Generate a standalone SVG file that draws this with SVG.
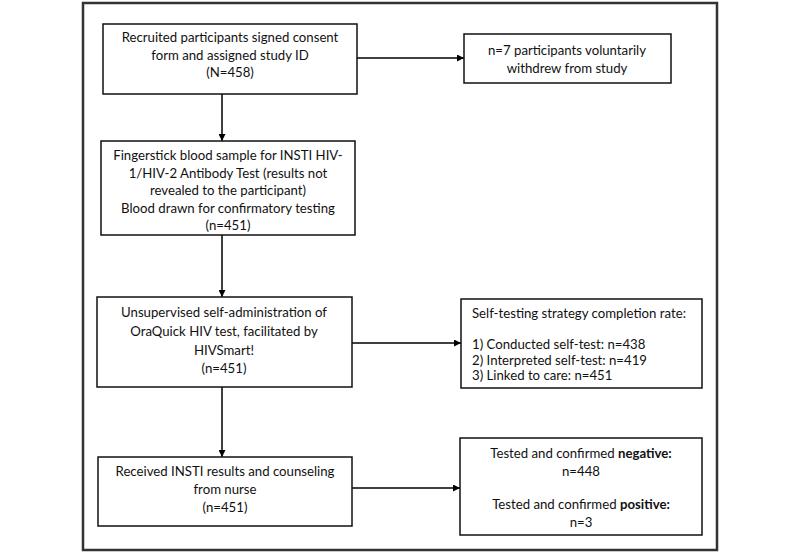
<svg xmlns="http://www.w3.org/2000/svg" width="800" height="553" viewBox="0 0 800 553">
<defs>
<marker id="ah" viewBox="0 0 10 10" refX="10" refY="5" markerWidth="7" markerHeight="7" markerUnits="userSpaceOnUse" orient="auto">
<path d="M0,0 L10,5 L0,10 z" fill="#000"/>
</marker>
<style>
.box{fill:#fff;stroke:#111;stroke-width:1.5}
.t{font-family:Lato,"Open Sans","Liberation Sans",sans-serif;font-size:13.2px;fill:#111}
.c{text-anchor:middle}
.con{stroke:#000;stroke-width:1.5;fill:none;marker-end:url(#ah)}
</style>
</defs>
<rect width="800" height="553" fill="#fff"/>
<rect x="83" y="3" width="634" height="547" fill="none" stroke="#333" stroke-width="2.5"/>
<g id="connectors">
<line class="con" x1="222" y1="94" x2="222" y2="141"/>
<line class="con" x1="222" y1="235" x2="222" y2="297"/>
<line class="con" x1="222" y1="387" x2="222" y2="457"/>
<line class="con" x1="357" y1="58" x2="464" y2="58"/>
<line class="con" x1="352" y1="343" x2="461" y2="343"/>
<line class="con" x1="352" y1="488" x2="460" y2="488"/>
</g>
<g id="n1">
<rect class="box" x="103" y="24" width="254" height="70"/>
<text class="t c" x="230" y="42">Recruited participants signed consent</text>
<text class="t c" x="230" y="60">form and assigned study ID</text>
<text class="t c" x="230" y="77">(N=458)</text>
</g>
<g id="n2">
<rect class="box" x="464" y="34" width="207" height="49"/>
<text class="t c" x="567" y="55">n=7 participants voluntarily</text>
<text class="t c" x="567" y="73">withdrew from study</text>
</g>
<g id="n3">
<rect class="box" x="101" y="141" width="254" height="94"/>
<text class="t c" x="228" y="160">Fingerstick blood sample for INSTI HIV-</text>
<text class="t c" x="228" y="178">1/HIV-2 Antibody Test (results not</text>
<text class="t c" x="228" y="195">revealed to the participant)</text>
<text class="t c" x="228" y="213">Blood drawn for confirmatory testing</text>
<text class="t c" x="228" y="230">(n=451)</text>
</g>
<g id="n4">
<rect class="box" x="97" y="297" width="255" height="90"/>
<text class="t c" x="224" y="317">Unsupervised self-administration of</text>
<text class="t c" x="224" y="336">OraQuick HIV test, facilitated by</text>
<text class="t c" x="224" y="355">HIVSmart!</text>
<text class="t c" x="224" y="373">(n=451)</text>
</g>
<g id="n5">
<rect class="box" x="461" y="299" width="241" height="89"/>
<text class="t" x="472" y="318">Self-testing strategy completion rate:</text>
<text class="t" x="472" y="349">1) Conducted self-test: n=438</text>
<text class="t" x="472" y="364.5">2) Interpreted self-test: n=419</text>
<text class="t" x="472" y="380">3) Linked to care: n=451</text>
</g>
<g id="n6">
<rect class="box" x="98" y="457" width="254" height="69"/>
<text class="t c" x="225" y="476">Received INSTI results and counseling</text>
<text class="t c" x="225" y="494">from nurse</text>
<text class="t c" x="225" y="512">(n=451)</text>
</g>
<g id="n7">
<rect class="box" x="460" y="438" width="242" height="97"/>
<text class="t c" x="581" y="458">Tested and confirmed <tspan font-weight="bold">negative:</tspan></text>
<text class="t c" x="581" y="476">n=448</text>
<text class="t c" x="581" y="509">Tested and confirmed <tspan font-weight="bold">positive:</tspan></text>
<text class="t c" x="581" y="527">n=3</text>
</g>
</svg>
